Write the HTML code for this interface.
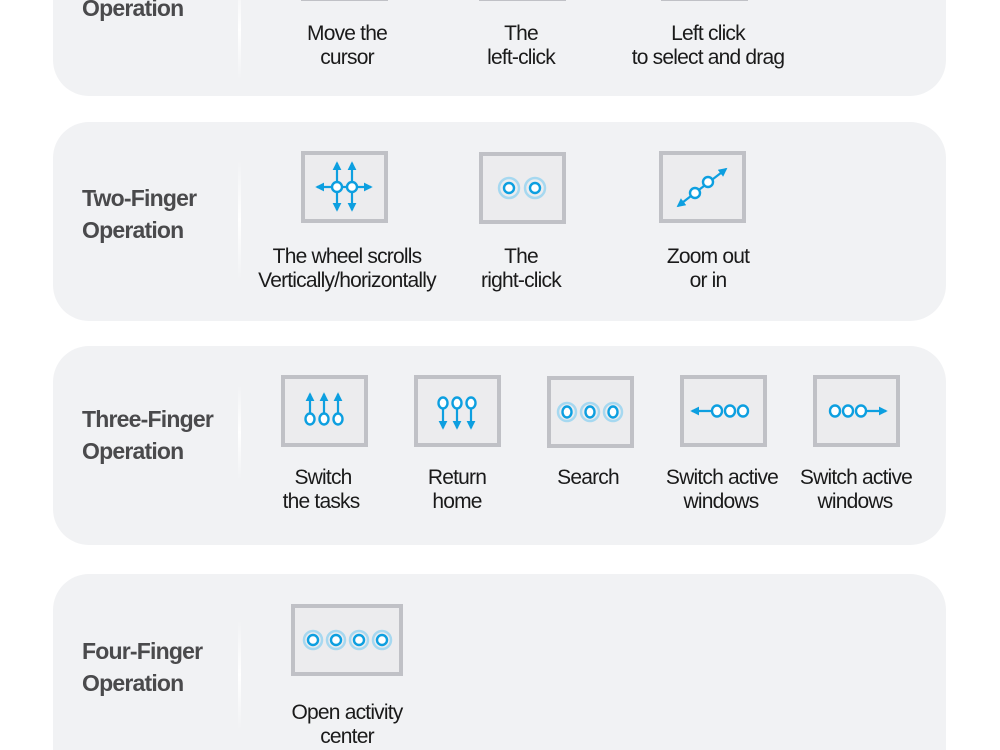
<!DOCTYPE html>
<html><head><meta charset="utf-8"><style>
html,body{margin:0;padding:0;background:#fff;width:1000px;height:750px;overflow:hidden;}
svg{display:block;}
.h{font-family:"Liberation Sans",sans-serif;font-weight:bold;font-size:23px;fill:#4a4a4c;letter-spacing:-0.8px;}
.t{font-family:"Liberation Sans",sans-serif;font-size:21px;fill:#1a1a1a;text-anchor:middle;letter-spacing:-0.8px;}
.bx{fill:#ececee;stroke:#c0c1c6;stroke-width:4;}
.ln{stroke:#0d9fe0;stroke-width:2.2;fill:none;}
.c{fill:#fff;stroke:#0d9fe0;stroke-width:2.4;}
.hl{fill:none;stroke:#a6d8f0;stroke-width:2.5;}
</style></head><body>
<svg width="1000" height="750" viewBox="0 0 1000 750" xmlns="http://www.w3.org/2000/svg">
<defs>
<marker id="a" viewBox="0 0 10 10" refX="8" refY="5" markerWidth="4" markerHeight="4" orient="auto-start-reverse"><path d="M0,0 L10,5 L0,10 z" fill="#0d9fe0"/></marker>
<linearGradient id="dv" x1="0" y1="0" x2="0" y2="1"><stop offset="0" stop-color="#fff" stop-opacity="0"/><stop offset="0.5" stop-color="#fff" stop-opacity="1"/><stop offset="1" stop-color="#fff" stop-opacity="0"/></linearGradient>
</defs>
<rect x="53" y="-60" width="893" height="156" rx="36" fill="#f1f2f4"/>
<rect x="53" y="122" width="893" height="199" rx="36" fill="#f1f2f4"/>
<rect x="53" y="346" width="893" height="199" rx="36" fill="#f1f2f4"/>
<rect x="53" y="574" width="893" height="176" rx="36" fill="#f1f2f4"/>
<rect x="53" y="700" width="893" height="50" fill="#f1f2f4"/>
<rect x="238" y="-20" width="3" height="100" fill="url(#dv)"/>
<rect x="238" y="160" width="3" height="120" fill="url(#dv)"/>
<rect x="238" y="385" width="3" height="95" fill="url(#dv)"/>
<rect x="238" y="620" width="3" height="110" fill="url(#dv)"/>

<text class="h" x="82" y="16">Operation</text>
<rect x="301" y="-1" width="87" height="2" fill="#c0c1c6"/>
<rect x="479" y="-1" width="87" height="2" fill="#c0c1c6"/>
<rect x="661" y="-1" width="87" height="2" fill="#c0c1c6"/>
<text class="t" x="347" y="40">Move the</text><text class="t" x="347" y="64">cursor</text>
<text class="t" x="521" y="40">The</text><text class="t" x="521" y="64">left-click</text>
<text class="t" x="708" y="40">Left click</text><text class="t" x="708" y="64">to select and drag</text>

<text class="h" x="82" y="206">Two-Finger</text><text class="h" x="82" y="238">Operation</text>
<rect class="bx" x="303" y="153" width="83" height="68"/>
<line class="ln" x1="337" y1="210" x2="337" y2="163" marker-end="url(#a)" marker-start="url(#a)"/>
<line class="ln" x1="352" y1="210" x2="352" y2="163" marker-end="url(#a)" marker-start="url(#a)"/>
<line class="ln" x1="317" y1="187" x2="371" y2="187" marker-end="url(#a)" marker-start="url(#a)"/>
<circle class="c" cx="337" cy="187" r="5"/><circle class="c" cx="352" cy="187" r="5"/>
<rect class="bx" x="481" y="154" width="83" height="68"/>
<circle class="hl" cx="509" cy="188" r="10"/><circle class="hl" cx="535" cy="188" r="10"/>
<circle class="c" cx="509" cy="188" r="5"/><circle class="c" cx="535" cy="188" r="5"/>
<rect class="bx" x="661" y="153" width="83" height="68"/>
<line class="ln" x1="678" y1="206" x2="726" y2="169" marker-end="url(#a)" marker-start="url(#a)"/>
<circle class="c" cx="695" cy="193" r="5"/><circle class="c" cx="708" cy="182" r="5"/>
<text class="t" x="347" y="263">The wheel scrolls</text><text class="t" x="347" y="287">Vertically/horizontally</text>
<text class="t" x="521" y="263">The</text><text class="t" x="521" y="287">right-click</text>
<text class="t" x="708" y="263">Zoom out</text><text class="t" x="708" y="287">or in</text>

<text class="h" x="82" y="427">Three-Finger</text><text class="h" x="82" y="459">Operation</text>
<rect class="bx" x="283" y="377" width="83" height="68"/>
<line class="ln" x1="310" y1="415" x2="310" y2="394" marker-end="url(#a)"/>
<line class="ln" x1="324" y1="415" x2="324" y2="394" marker-end="url(#a)"/>
<line class="ln" x1="338" y1="415" x2="338" y2="394" marker-end="url(#a)"/>
<ellipse class="c" cx="310" cy="419" rx="4.5" ry="5.5"/><ellipse class="c" cx="324" cy="419" rx="4.5" ry="5.5"/><ellipse class="c" cx="338" cy="419" rx="4.5" ry="5.5"/>
<rect class="bx" x="416" y="377" width="83" height="68"/>
<line class="ln" x1="443" y1="407" x2="443" y2="428" marker-end="url(#a)"/>
<line class="ln" x1="457" y1="407" x2="457" y2="428" marker-end="url(#a)"/>
<line class="ln" x1="471" y1="407" x2="471" y2="428" marker-end="url(#a)"/>
<ellipse class="c" cx="443" cy="403" rx="4.5" ry="5.5"/><ellipse class="c" cx="457" cy="403" rx="4.5" ry="5.5"/><ellipse class="c" cx="471" cy="403" rx="4.5" ry="5.5"/>
<rect class="bx" x="549" y="378" width="83" height="68"/>
<circle class="hl" cx="567" cy="412" r="9"/><circle class="hl" cx="590" cy="412" r="9"/><circle class="hl" cx="613" cy="412" r="9"/>
<ellipse class="c" cx="567" cy="412" rx="4.5" ry="5.5"/><ellipse class="c" cx="590" cy="412" rx="4.5" ry="5.5"/><ellipse class="c" cx="613" cy="412" rx="4.5" ry="5.5"/>
<rect class="bx" x="682" y="377" width="83" height="68"/>
<line class="ln" x1="712" y1="411" x2="692" y2="411" marker-end="url(#a)"/>
<ellipse class="c" cx="717" cy="411" rx="5" ry="5.5"/><ellipse class="c" cx="730" cy="411" rx="5" ry="5.5"/><ellipse class="c" cx="743" cy="411" rx="5" ry="5.5"/>
<rect class="bx" x="815" y="377" width="83" height="68"/>
<line class="ln" x1="866" y1="411" x2="886" y2="411" marker-end="url(#a)"/>
<ellipse class="c" cx="835" cy="411" rx="5" ry="5.5"/><ellipse class="c" cx="848" cy="411" rx="5" ry="5.5"/><ellipse class="c" cx="861" cy="411" rx="5" ry="5.5"/>
<text class="t" x="323" y="484">Switch</text><text class="t" x="321" y="508">the tasks</text>
<text class="t" x="457" y="484">Return</text><text class="t" x="457" y="508">home</text>
<text class="t" x="588" y="484">Search</text>
<text class="t" x="722" y="484">Switch active</text><text class="t" x="721" y="508">windows</text>
<text class="t" x="856" y="484">Switch active</text><text class="t" x="855" y="508">windows</text>

<text class="h" x="82" y="659">Four-Finger</text><text class="h" x="82" y="691">Operation</text>
<rect class="bx" x="293" y="606" width="108" height="68"/>
<circle class="hl" cx="313" cy="640" r="9"/><circle class="hl" cx="336" cy="640" r="9"/><circle class="hl" cx="359" cy="640" r="9"/><circle class="hl" cx="382" cy="640" r="9"/>
<circle class="c" cx="313" cy="640" r="5"/><circle class="c" cx="336" cy="640" r="5"/><circle class="c" cx="359" cy="640" r="5"/><circle class="c" cx="382" cy="640" r="5"/>
<text class="t" x="347" y="719">Open activity</text><text class="t" x="347" y="743">center</text>
</svg>
</body></html>
